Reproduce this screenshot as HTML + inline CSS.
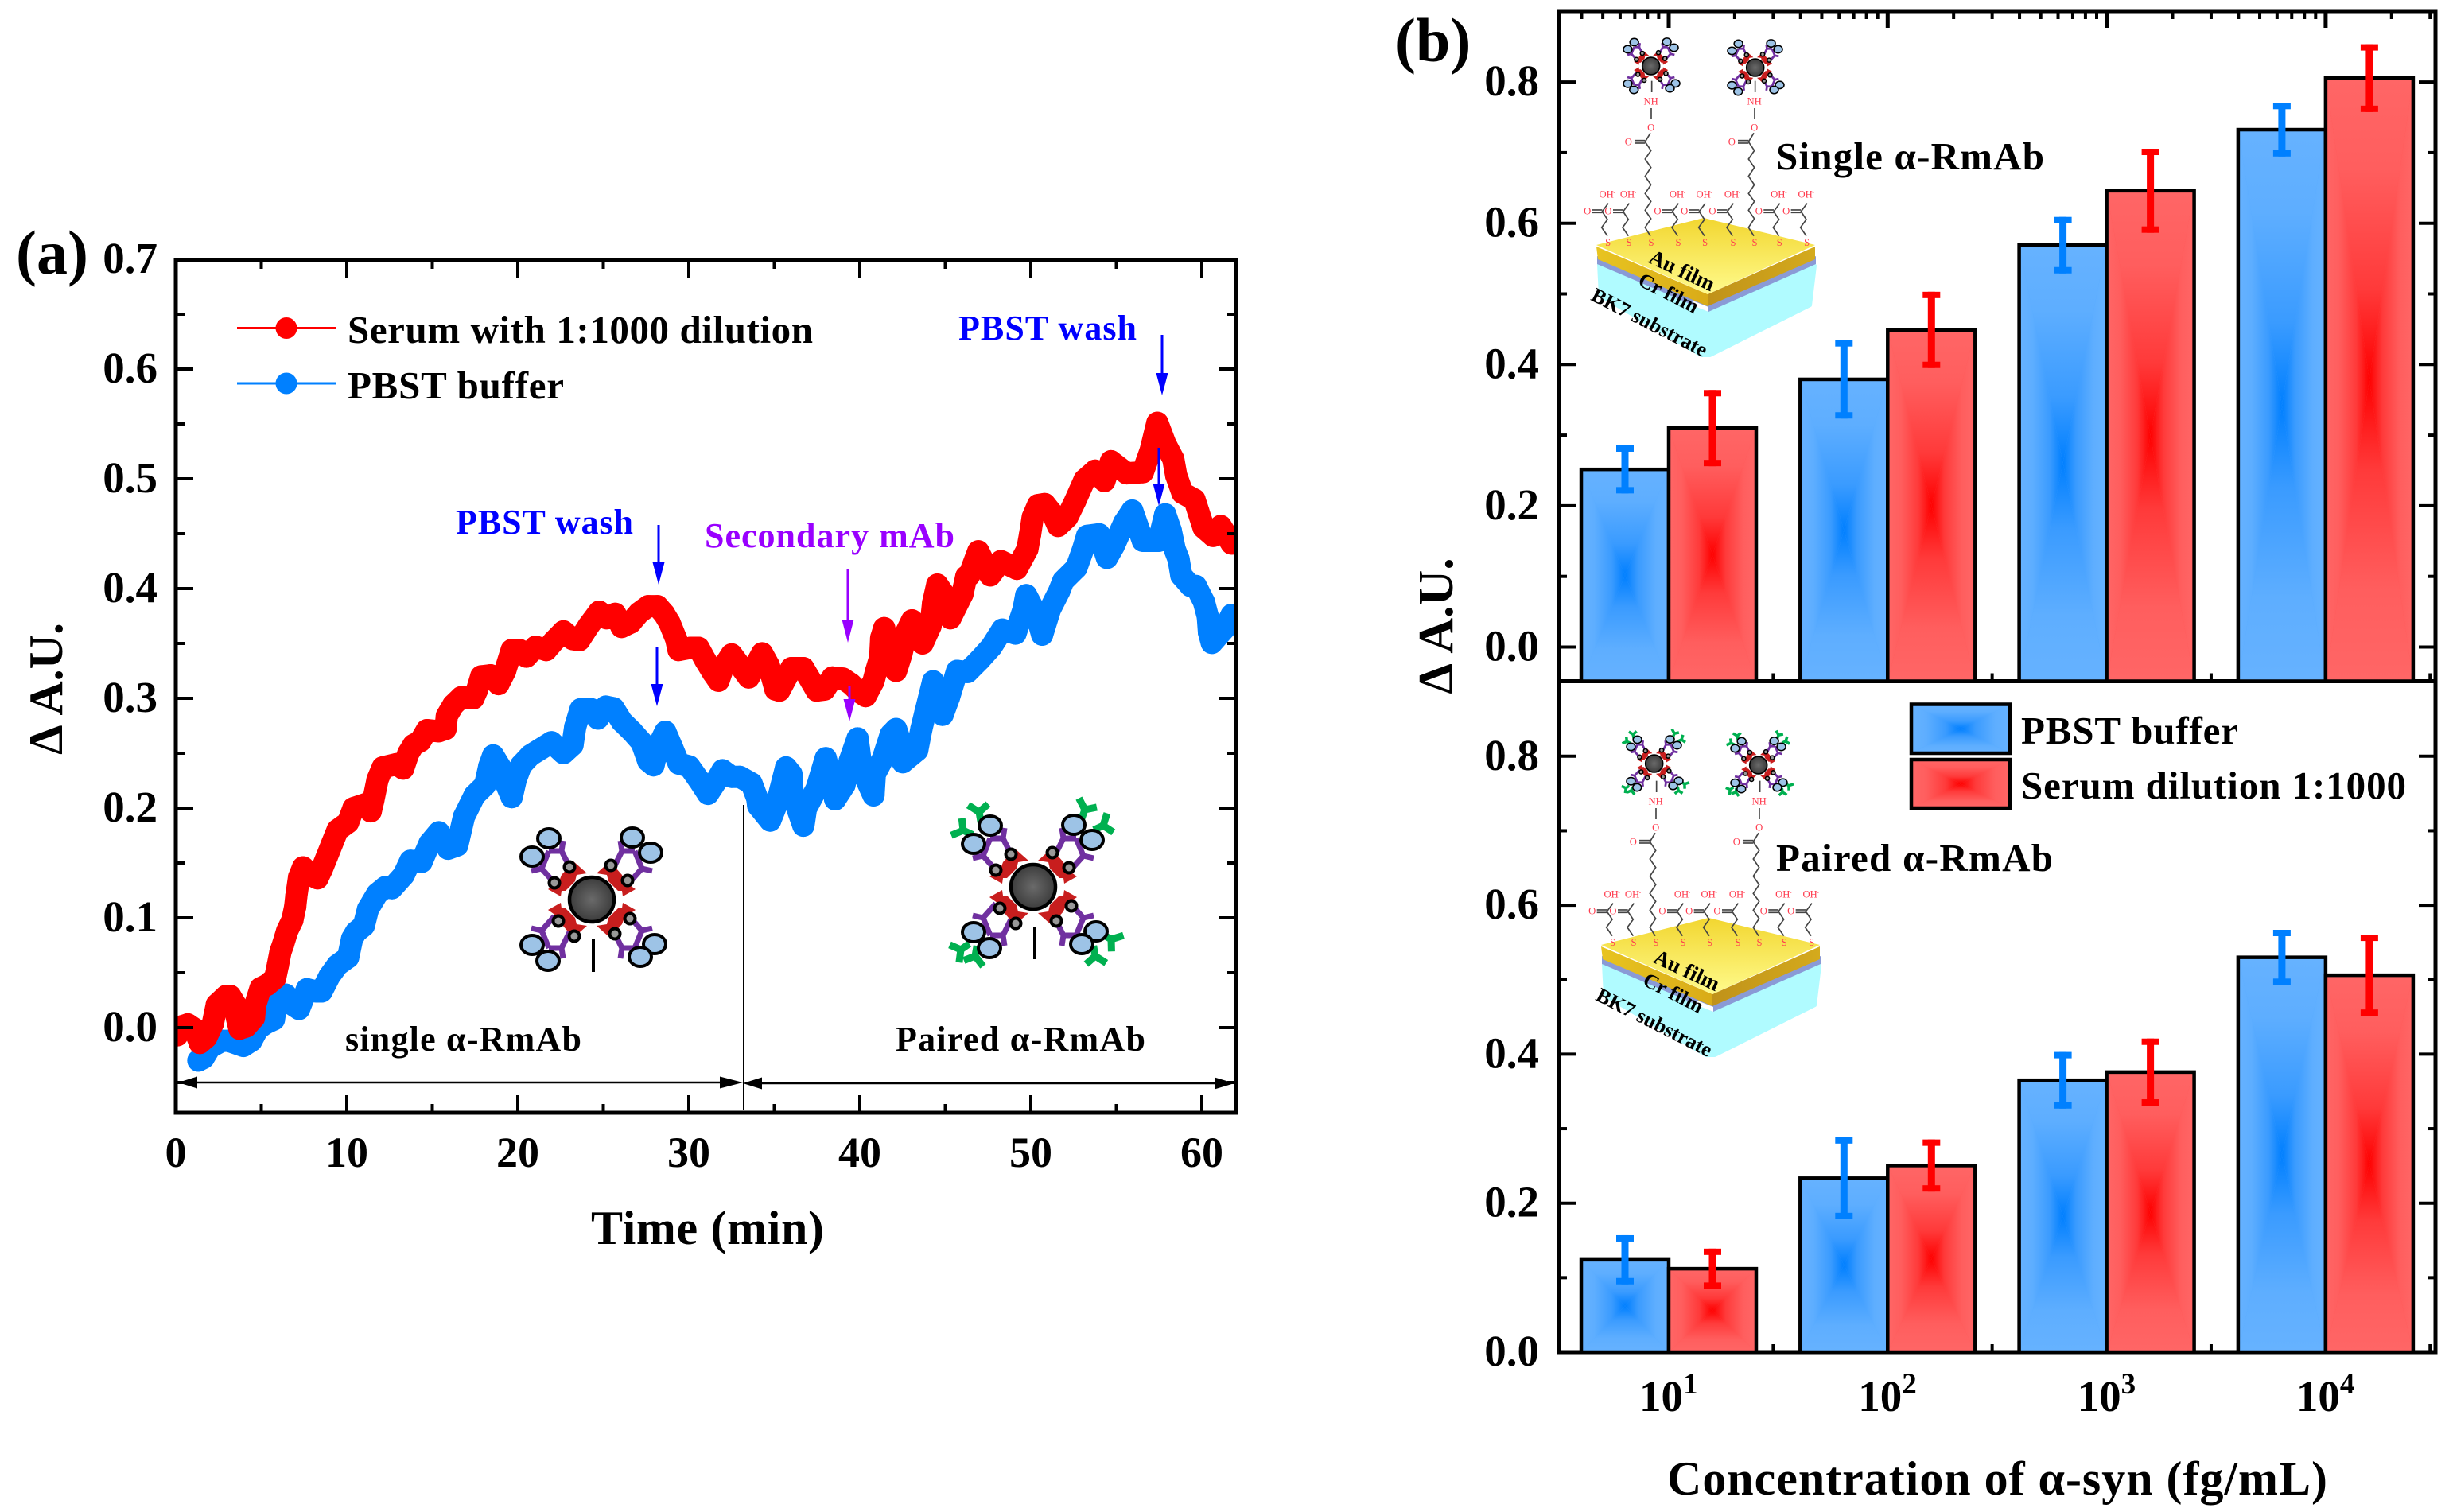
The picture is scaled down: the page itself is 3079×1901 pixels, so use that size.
<!DOCTYPE html>
<html lang="en">
<head>
<meta charset="utf-8">
<title>Delta A.U. sensor response figure</title>
<style>
html,body{margin:0;padding:0;background:#fff;}
svg{display:block;}
text{font-family:"Liberation Serif","Noto Serif CJK SC",serif;font-weight:bold;fill:#000;}
.chem text{font-weight:normal;fill:#ff3b4e;}
</style>
</head>
<body>
<svg id="figure" xmlns="http://www.w3.org/2000/svg" width="3079" height="1901" viewBox="0 0 3079 1901">
<defs>
  <clipPath id="plotAClip"><rect x="221" y="327" width="1333" height="1072"/></clipPath>
  <linearGradient id="blueTop" x1="0" y1="0" x2="0" y2="1"><stop offset="0" stop-color="#66b2ff"/><stop offset="0.3" stop-color="#5eaeff"/><stop offset="0.7" stop-color="#3a9bff"/><stop offset="1" stop-color="#007fff"/></linearGradient>
  <linearGradient id="blueBottom" x1="0" y1="1" x2="0" y2="0"><stop offset="0" stop-color="#66b2ff"/><stop offset="0.3" stop-color="#5eaeff"/><stop offset="0.7" stop-color="#3a9bff"/><stop offset="1" stop-color="#007fff"/></linearGradient>
  <linearGradient id="blueLeft" x1="0" y1="0" x2="1" y2="0"><stop offset="0" stop-color="#66b2ff"/><stop offset="0.3" stop-color="#5eaeff"/><stop offset="0.7" stop-color="#3a9bff"/><stop offset="1" stop-color="#007fff"/></linearGradient>
  <linearGradient id="blueRight" x1="1" y1="0" x2="0" y2="0"><stop offset="0" stop-color="#66b2ff"/><stop offset="0.3" stop-color="#5eaeff"/><stop offset="0.7" stop-color="#3a9bff"/><stop offset="1" stop-color="#007fff"/></linearGradient>
  <linearGradient id="redTop" x1="0" y1="0" x2="0" y2="1"><stop offset="0" stop-color="#ff6666"/><stop offset="0.3" stop-color="#ff5e5e"/><stop offset="0.7" stop-color="#ff3a3a"/><stop offset="1" stop-color="#ff0000"/></linearGradient>
  <linearGradient id="redBottom" x1="0" y1="1" x2="0" y2="0"><stop offset="0" stop-color="#ff6666"/><stop offset="0.3" stop-color="#ff5e5e"/><stop offset="0.7" stop-color="#ff3a3a"/><stop offset="1" stop-color="#ff0000"/></linearGradient>
  <linearGradient id="redLeft" x1="0" y1="0" x2="1" y2="0"><stop offset="0" stop-color="#ff6666"/><stop offset="0.3" stop-color="#ff5e5e"/><stop offset="0.7" stop-color="#ff3a3a"/><stop offset="1" stop-color="#ff0000"/></linearGradient>
  <linearGradient id="redRight" x1="1" y1="0" x2="0" y2="0"><stop offset="0" stop-color="#ff6666"/><stop offset="0.3" stop-color="#ff5e5e"/><stop offset="0.7" stop-color="#ff3a3a"/><stop offset="1" stop-color="#ff0000"/></linearGradient>
  <radialGradient id="coreGrad"><stop offset="0" stop-color="#6a6a6a"/><stop offset="1" stop-color="#3c3c3c"/></radialGradient>
  <linearGradient id="goldTop" x1="0.5" y1="0" x2="0.5" y2="1"><stop offset="0" stop-color="#f2d630"/><stop offset="1" stop-color="#fffb8c"/></linearGradient>
  <linearGradient id="goldLeft" x1="0" y1="0" x2="1" y2="0"><stop offset="0" stop-color="#e8c420"/><stop offset="1" stop-color="#d9ab18"/></linearGradient>
  <linearGradient id="goldRight" x1="0" y1="0" x2="1" y2="0"><stop offset="0" stop-color="#c0921a"/><stop offset="1" stop-color="#d4aa1c"/></linearGradient>

  <g id="quad">
    <polygon fill="#c81e1e" points="-55,-13 -41,-23 -38,-31 -23,-48 -6,-33 -19,-31 -21,-23 -33,-11 -38,-11 -39,-4"/>
    <g fill="none" stroke="#7030a0" stroke-width="7">
      <polyline points="-47,-21 -63,-39 -76,-36"/>
      <polyline points="-63,-39 -54,-61"/>
      <polyline points="-54,-61 -38,-61 -36,-74"/>
      <polyline points="-38,-61 -28,-41"/>
    </g>
  </g>
  <g id="particleSingle">
    <use href="#quad"/>
    <use href="#quad" transform="scale(-1,1)"/>
    <use href="#quad" transform="scale(1,-1)"/>
    <use href="#quad" transform="scale(-1,-1)"/>
    <g fill="#9dc3e6" stroke="#000" stroke-width="4">
      <ellipse cx="-54" cy="-77" rx="14" ry="12"/><ellipse cx="-75" cy="-54" rx="14" ry="12"/>
      <ellipse cx="51" cy="-78" rx="14" ry="12"/><ellipse cx="74" cy="-59" rx="14" ry="12"/>
      <ellipse cx="-75" cy="57" rx="14" ry="12"/><ellipse cx="-55" cy="77" rx="14" ry="12"/>
      <ellipse cx="79" cy="56" rx="14" ry="12"/><ellipse cx="61" cy="72" rx="14" ry="12"/>
    </g>
    <g fill="#999" stroke="#000" stroke-width="4">
      <circle cx="-28" cy="-41" r="6.5"/><circle cx="-47" cy="-21" r="6.5"/>
      <circle cx="24" cy="-43" r="6.5"/><circle cx="45" cy="-24" r="6.5"/>
      <circle cx="-42" cy="27" r="6.5"/><circle cx="-22" cy="46" r="6.5"/>
      <circle cx="48" cy="24" r="6.5"/><circle cx="29" cy="43" r="6.5"/>
    </g>
    <circle r="28" fill="url(#coreGrad)" stroke="#000" stroke-width="4.5"/>
  </g>
  <path id="greenY" d="M0,13 L0,0 L-12,-11 M0,0 L13,-8" fill="none" stroke="#00b050" stroke-width="9"/>
  <g id="particlePaired">
    <use href="#greenY" transform="translate(-68,-94) rotate(-10)"/>
    <use href="#greenY" transform="translate(-88,-71) rotate(-65)"/>
    <use href="#greenY" transform="translate(65,-97) rotate(20)"/>
    <use href="#greenY" transform="translate(88,-77) rotate(65)"/>
    <use href="#greenY" transform="translate(-91,79) rotate(-125)"/>
    <use href="#greenY" transform="translate(-73,87) rotate(-170)"/>
    <use href="#greenY" transform="translate(78,87) rotate(170)"/>
    <use href="#greenY" transform="translate(98,66) rotate(120)"/>
    <use href="#particleSingle"/>
  </g>
  <g id="plate">
    <polygon fill="#b0fbff" stroke="#b0fbff" stroke-width="4" stroke-linejoin="round" points="2010,332 2148,392 2282,334 2276,384 2150,447 2139,447 2012,372"/>
    <polygon fill="#8a9ad6" points="2008,322 2148,382 2283,322 2283,332 2148,392 2008,332"/>
    <polygon fill="#ffffff" points="2128,378 2148,386 2148,392 2128,384"/>
    <polygon fill="url(#goldLeft)" points="2007,310 2147,370 2147,385 2009,326"/>
    <polygon fill="url(#goldRight)" points="2147,370 2282,310 2282,326 2147,385"/>
    <polygon fill="url(#goldTop)" stroke-linejoin="round" points="2007,308 2142,274 2282,308 2147,370"/>
  </g>
</defs>

<rect x="0" y="0" width="3079" height="1901" fill="#fff"/>

<!-- Panel (a) -->
<g id="panelA">
  <text x="20" y="344" font-size="78">(a)</text>
  <g id="panelAParticles">
    <use href="#particleSingle" transform="translate(744,1131)"/>
    <line x1="746" y1="1181" x2="746" y2="1222" stroke="#000" stroke-width="4"/>
    <use href="#particlePaired" transform="translate(1299,1115)"/>
    <line x1="1301" y1="1165" x2="1301" y2="1206" stroke="#000" stroke-width="4"/>
  </g>
  <g id="seriesLayer" clip-path="url(#plotAClip)"></g>
  <g id="panelAAxes"></g>
  <text transform="translate(78,866) rotate(-90)" text-anchor="middle" font-size="60">Δ A.U.</text>
  <text x="743" y="1564" font-size="60" textLength="293" lengthAdjust="spacing">Time (min)</text>

  <g>
    <g>
      <line x1="298" y1="412.5" x2="423" y2="412.5" stroke="#ff0000" stroke-width="3"/>
      <circle cx="360" cy="412.5" r="13.5" fill="#ff0000"/>
      <text x="437" y="431" font-size="49" textLength="585" lengthAdjust="spacing">Serum with 1:1000 dilution</text>
    </g>
    <g>
      <line x1="298" y1="482" x2="423" y2="482" stroke="#0080ff" stroke-width="3"/>
      <circle cx="360" cy="482" r="13.5" fill="#0080ff"/>
      <text x="437" y="501" font-size="49" textLength="272" lengthAdjust="spacing">PBST buffer</text>
    </g>
  </g>

  <text x="573" y="671" font-size="44" textLength="223" lengthAdjust="spacing" style="fill:#0000ff">PBST wash</text>
  <text x="1205" y="427" font-size="44" textLength="224" lengthAdjust="spacing" style="fill:#0000ff">PBST wash</text>
  <text x="886" y="688" font-size="44" textLength="314" lengthAdjust="spacing" style="fill:#9900ff">Secondary mAb</text>

  <g fill="#0000ff" stroke="none"><rect x="826.5" y="660" width="3" height="50"/><polygon points="820.5,707 835.5,707 828,735"/></g>
  <g fill="#0000ff" stroke="none"><rect x="824.5" y="814" width="3" height="50"/><polygon points="818.5,860 833.5,860 826,888"/></g>
  <g fill="#9900ff" stroke="none"><rect x="1064.5" y="715" width="3" height="68"/><polygon points="1058.5,779 1073.5,779 1066,808"/></g>
  <g fill="#9900ff" stroke="none"><rect x="1066.5" y="863" width="3" height="20"/><polygon points="1060.5,879 1075.5,879 1068,907"/></g>
  <g fill="#0000ff" stroke="none"><rect x="1459.5" y="421" width="3" height="50"/><polygon points="1453.5,469 1468.5,469 1461,497"/></g>
  <g fill="#0000ff" stroke="none"><rect x="1455.5" y="563" width="3" height="48"/><polygon points="1449.5,608 1464.5,608 1457,636"/></g>

  <text x="434" y="1321" font-size="44" textLength="297" lengthAdjust="spacing">single α-RmAb</text>
  <text x="1126" y="1321" font-size="44" textLength="314" lengthAdjust="spacing">Paired α-RmAb</text>

  <line x1="935" y1="1012" x2="935" y2="1396" stroke="#000" stroke-width="2"/>
  <g>
    <line x1="230" y1="1361" x2="925" y2="1361" stroke="#000" stroke-width="2.5"/>
    <polygon points="224,1361 248,1353.5 248,1368.5" fill="#000"/>
    <polygon points="934,1361 905,1353.5 905,1368.5" fill="#000"/>
  </g>
  <g>
    <line x1="945" y1="1362" x2="1545" y2="1362" stroke="#000" stroke-width="2.5"/>
    <polygon points="934,1362 958,1354.5 958,1369.5" fill="#000"/>
    <polygon points="1552,1362 1527,1354.5 1527,1369.5" fill="#000"/>
  </g>
</g>

<!-- Panel (b) -->
<g id="panelB">
  <text x="1754" y="77" font-size="78">(b)</text>
  <g id="panelBAxes"></g>
  <g id="panelBBars"></g>

  <g id="insetUpper">
    <use href="#plate"/>
    <text transform="translate(2111,348) rotate(25)" text-anchor="middle" font-size="27">Au film</text>
    <text transform="translate(2094,376) rotate(27)" text-anchor="middle" font-size="26">Cr film</text>
    <text transform="translate(2070,413) rotate(27)" text-anchor="middle" font-size="26">BK7 substrate</text>
    <use href="#particleSingle" transform="translate(2075.7,83) scale(0.39)"/>
    <use href="#particleSingle" transform="translate(2206.7,85) scale(0.39)"/>
    <g class="chem" transform="translate(1990,30) scale(0.3333)"></g>
  </g>
  <g id="insetLower" transform="translate(6,880)">
    <use href="#plate"/>
    <text transform="translate(2111,348) rotate(25)" text-anchor="middle" font-size="27">Au film</text>
    <text transform="translate(2094,376) rotate(27)" text-anchor="middle" font-size="26">Cr film</text>
    <text transform="translate(2070,413) rotate(27)" text-anchor="middle" font-size="26">BK7 substrate</text>
    <use href="#particlePaired" transform="translate(2073.7,80) scale(0.39)"/>
    <use href="#particlePaired" transform="translate(2204.7,82) scale(0.39)"/>
    <g class="chem" transform="translate(1990,30) scale(0.3333)"></g>
  </g>

  <text x="2233" y="213" font-size="49" textLength="337" lengthAdjust="spacing">Single α-RmAb</text>
  <text x="2233" y="1095" font-size="49" textLength="348" lengthAdjust="spacing">Paired α-RmAb</text>

  <g id="panelBLegend">
    <text x="2541" y="935" font-size="49" textLength="273" lengthAdjust="spacing">PBST buffer</text>
    <text x="2541" y="1004" font-size="49" textLength="484" lengthAdjust="spacing">Serum dilution 1:1000</text>
  </g>

  <text transform="translate(1826,787) rotate(-90)" text-anchor="middle" font-size="62">Δ A.U.</text>
  <text x="2096" y="1879" font-size="60" textLength="830" lengthAdjust="spacing">Concentration of α-syn (fg/mL)</text>
</g>

<script>
// ---------- Panel (a) data ----------
const serumTime = [0.08,0.31,0.70,1.09,1.40,1.78,2.17,2.40,2.95,3.18,3.49,3.57,3.72,4.11,4.57,4.65,4.96,5.35,5.81,5.97,6.12,6.28,6.51,6.82,6.98,7.05,7.21,7.44,7.91,8.29,8.53,8.84,9.15,9.46,10.08,10.39,11.16,11.4,11.55,11.8,12.1,12.9,13.3,13.6,13.9,14.3,14.68,15.38,15.77,15.85,16.23,16.7,17.4,17.63,17.86,18.4,18.87,19.26,19.64,20.1,20.5,21.04,21.66,22.1,22.67,23.2,23.6,24.14,24.76,25.2,25.7,26.07,26.6,27.1,27.63,28.17,28.56,28.87,29.26,29.4,30.1,30.57,30.96,31.43,31.74,32.0,32.5,32.98,33.5,33.83,34.29,34.68,35.07,35.3,36,36.7,37.16,37.47,37.94,38.4,39.02,39.49,39.95,40.34,40.8,40.96,41.19,41.25,41.43,41.66,42.12,42.43,42.74,43.05,43.36,43.67,44.14,44.29,44.53,44.91,45.3,46,46.23,46.4,46.93,47.63,48.25,49.18,49.8,49.96,50.11,50.42,50.81,51.28,51.59,52.13,52.6,53.14,53.76,54.3,54.69,55.6,56.55,57.0,57.4,57.86,58.33,58.5,58.87,59.57,59.8,60.1,60.66,61.1,61.74];
const serumValue = [-0.007,0.001,0.003,-0.001,-0.014,-0.009,0.004,0.021,0.029,0.029,0.021,0.009,-0.001,0.001,0.009,0.021,0.036,0.039,0.045,0.057,0.069,0.076,0.088,0.098,0.110,0.120,0.137,0.146,0.139,0.136,0.144,0.156,0.168,0.180,0.187,0.200,0.204,0.197,0.207,0.226,0.237,0.240,0.236,0.250,0.2575,0.261,0.271,0.270,0.272,0.284,0.294,0.301,0.300,0.308,0.320,0.321,0.313,0.325,0.344,0.344,0.338,0.347,0.344,0.352,0.361,0.354,0.353,0.366,0.379,0.373,0.377,0.365,0.369,0.378,0.384,0.384,0.377,0.369,0.354,0.344,0.346,0.346,0.335,0.323,0.316,0.328,0.340,0.330,0.319,0.3275,0.341,0.330,0.308,0.307,0.3275,0.3275,0.3155,0.307,0.308,0.319,0.318,0.313,0.306,0.302,0.3155,0.325,0.337,0.355,0.364,0.347,0.325,0.340,0.361,0.371,0.361,0.350,0.366,0.387,0.4036,0.395,0.373,0.395,0.411,0.412,0.434,0.412,0.425,0.418,0.436,0.4495,0.465,0.476,0.477,0.468,0.457,0.465,0.480,0.499,0.5075,0.498,0.516,0.505,0.506,0.5255,0.551,0.532,0.518,0.503,0.487,0.481,0.470,0.4555,0.448,0.457,0.441];
const pbstTime = [1.32,1.63,2.0,2.7,3.1,3.95,4.42,4.8,5.27,5.74,5.89,6.43,6.82,7.21,7.67,8.22,8.53,8.99,9.46,10.08,10.31,10.54,11.0,11.24,11.78,12.25,12.64,13.33,13.72,14.37,14.84,15.38,15.92,16.46,16.85,17.47,18.09,18.33,18.56,18.95,19.26,19.64,19.88,20.19,20.73,21.35,21.97,22.67,23.2,23.36,23.67,24.3,24.68,25.15,25.6,26.08,26.7,27.24,27.63,27.94,28.17,28.63,29.03,29.41,30.03,30.57,31.12,31.58,31.97,32.5,32.98,33.67,34,34.06,34.76,35.15,35.69,36,36.08,36.7,36.85,37.47,38.01,38.4,38.56,39.1,39.41,39.87,39.95,40.1,40.8,40.88,41.35,41.81,42.12,42.43,42.51,43.36,43.6,43.83,44.29,44.45,44.84,45.22,45.69,46.3,47,47.7,48.33,49.1,49.57,49.73,50.34,50.66,51.12,51.66,51.9,52.67,53.06,53.29,53.99,54.45,54.84,55.46,55.93,56.55,57.48,57.86,58.18,58.41,58.64,58.8,59.34,59.65,60.12,60.35,60.42,60.58,61.35,61.74];
const pbstValue = [-0.030,-0.0275,-0.018,-0.012,-0.012,-0.0167,-0.012,-0.001,0.004,0.0075,0.023,0.030,0.021,0.017,0.035,0.033,0.033,0.047,0.057,0.064,0.081,0.087,0.093,0.108,0.122,0.128,0.127,0.139,0.152,0.151,0.168,0.178,0.163,0.166,0.192,0.2116,0.221,0.238,0.248,0.238,0.224,0.210,0.226,0.239,0.248,0.254,0.260,0.250,0.2575,0.274,0.290,0.290,0.2816,0.2925,0.291,0.279,0.2696,0.260,0.243,0.239,0.255,0.2696,0.255,0.2406,0.238,0.226,0.213,0.224,0.2345,0.2285,0.2285,0.2225,0.209,0.202,0.1886,0.204,0.237,0.231,0.2116,0.184,0.1995,0.2176,0.2454,0.221,0.208,0.221,0.243,0.2635,0.254,0.2357,0.2116,0.231,0.245,0.267,0.272,0.2575,0.2418,0.2527,0.272,0.2865,0.3155,0.301,0.285,0.301,0.325,0.324,0.335,0.347,0.3626,0.359,0.381,0.394,0.376,0.358,0.381,0.3976,0.407,0.419,0.436,0.448,0.4495,0.428,0.4386,0.460,0.471,0.4435,0.4435,0.4676,0.453,0.436,0.4266,0.412,0.4024,0.4024,0.388,0.3746,0.360,0.3505,0.364,0.376];
const panelAYTickValues = [0,0.1,0.2,0.3,0.4,0.5,0.6,0.7];
const panelAYTickLabels = ['0.0','0.1','0.2','0.3','0.4','0.5','0.6','0.7'];
const panelAYMinorValues = [-0.05,0.05,0.15,0.25,0.35,0.45,0.55,0.65];
const panelAXTickValues = [0,10,20,30,40,50,60];
const panelAXTickLabels = ['0','10','20','30','40','50','60'];
const panelAXMinorValues = [5,15,25,35,45,55];

// ---------- Panel (b) data ----------
const barCategories = [10,100,1000,10000];
const barExponentLabels = ['1','2','3','4'];
const singlePbstValues = [0.2515,0.379,0.569,0.7325];
const singlePbstErrors = [0.034,0.0555,0.040,0.038];
const singleSerumValues = [0.310,0.449,0.646,0.8055];
const singleSerumErrors = [0.054,0.054,0.0595,0.048];
const pairedPbstValues = [0.124,0.2335,0.365,0.530];
const pairedPbstErrors = [0.033,0.055,0.038,0.037];
const pairedSerumValues = [0.112,0.2505,0.376,0.506];
const pairedSerumErrors = [0.027,0.035,0.045,0.0545];
const panelBYTickValues = [0,0.2,0.4,0.6,0.8];
const panelBYTickLabels = ['0.0','0.2','0.4','0.6','0.8'];
const panelBYMinorValues = [0.1,0.3,0.5,0.7];

// ---------- helpers ----------
const NS = 'http://www.w3.org/2000/svg';
function make(tag, attrs, parent) {
  const node = document.createElementNS(NS, tag);
  for (const key in attrs) node.setAttribute(key, attrs[key]);
  parent.appendChild(node);
  return node;
}
function tickLine(parent, x1, y1, x2, y2, width, name) {
  const t = make('line', {x1: x1, y1: y1, x2: x2, y2: y2, stroke: '#000', 'stroke-width': width}, parent);
  
  
  return t;
}

// ---------- Panel (a) ----------
const ax = t => 221 + 21.5 * t;
const ay = v => 1292 - 1380 * v;
const seriesLayer = document.getElementById('seriesLayer');

function drawSeries(times, values, color, name) {
  const g = make('g', {}, seriesLayer);
  
  
  const pts = times.map((t, i) => ax(t).toFixed(1) + ',' + ay(values[i]).toFixed(1)).join(' ');
  const line = make('polyline', {points: pts, fill: 'none', stroke: color, 'stroke-width': 28, 'stroke-linejoin': 'round', 'stroke-linecap': 'round'}, g);
  
  
  times.forEach((t, i) => {
    const c = make('circle', {cx: ax(t).toFixed(1), cy: ay(values[i]).toFixed(1), r: 14, fill: color}, g);
    
    
  });
}
drawSeries(pbstTime, pbstValue, '#0080ff', 'pbst-series');
drawSeries(serumTime, serumValue, '#ff0000', 'serum-series');

const axesA = document.getElementById('panelAAxes');
const frameA = make('rect', {x: 221, y: 327, width: 1333, height: 1072, fill: 'none', stroke: '#000', 'stroke-width': 5}, axesA);



panelAXTickValues.forEach((v, i) => {
  tickLine(axesA, ax(v), 1399, ax(v), 1377, 4, 'x-major-tick');
  tickLine(axesA, ax(v), 327, ax(v), 349, 4, 'x-major-tick-top');
  const lab = make('text', {x: ax(v), y: 1467, 'text-anchor': 'middle', 'font-size': 54}, axesA);
  
  
  lab.textContent = panelAXTickLabels[i];
});
panelAXMinorValues.forEach(v => {
  tickLine(axesA, ax(v), 1399, ax(v), 1388, 4, 'x-minor-tick');
  tickLine(axesA, ax(v), 327, ax(v), 338, 4, 'x-minor-tick-top');
});
panelAYTickValues.forEach((v, i) => {
  tickLine(axesA, 221, ay(v), 243, ay(v), 4, 'y-major-tick');
  tickLine(axesA, 1554, ay(v), 1532, ay(v), 4, 'y-major-tick-right');
  const lab = make('text', {x: 198, y: ay(v) + 17, 'text-anchor': 'end', 'font-size': 55}, axesA);
  
  
  lab.textContent = panelAYTickLabels[i];
});
panelAYMinorValues.forEach(v => {
  tickLine(axesA, 221, ay(v), 232, ay(v), 4, 'y-minor-tick');
  tickLine(axesA, 1554, ay(v), 1543, ay(v), 4, 'y-minor-tick-right');
});

// ---------- Panel (b) ----------
const bx = exp => 2098 + 275.3 * (exp - 1);
const upperY = v => 813.5 - 888 * v;
const lowerY = v => 1700 - 936.5 * v;
const UPPER_BASE = 856.5, LOWER_BASE = 1700, BAR_W = 110;
const axesB = document.getElementById('panelBAxes');
const barsB = document.getElementById('panelBBars');

const frameB = make('rect', {x: 1960, y: 14, width: 1102, height: 1686, fill: 'none', stroke: '#000', 'stroke-width': 5}, axesB);


tickLine(axesB, 1960, UPPER_BASE, 3062, UPPER_BASE, 5, 'panel-b-divider-axis');

function logTicks() {
  for (let k = 0; k <= 4; k++) {
    for (let n = 1; n <= 9; n++) {
      const e = k + Math.log10(n);
      if (e < 0.5 || e > 4.5) continue;
      const major = n === 1;
      const len = major ? 21 : 10;
      const w = major ? 5 : 4;
      tickLine(axesB, bx(e), 14, bx(e), 14 + len, w, major ? 'top-major-tick' : 'top-minor-tick');
      tickLine(axesB, bx(e), UPPER_BASE, bx(e), UPPER_BASE - len, w, major ? 'upper-major-tick' : 'upper-minor-tick');
      tickLine(axesB, bx(e), LOWER_BASE, bx(e), LOWER_BASE - len, w, major ? 'bottom-major-tick' : 'bottom-minor-tick');
    }
  }
}
logTicks();

function yTicks(scale, panel) {
  panelBYTickValues.forEach((v, i) => {
    tickLine(axesB, 1960, scale(v), 1981, scale(v), 4, panel + '-y-major-tick');
    tickLine(axesB, 3062, scale(v), 3041, scale(v), 4, panel + '-y-major-tick-right');
    const lab = make('text', {x: 1935, y: scale(v) + 17, 'text-anchor': 'end', 'font-size': 55}, axesB);
    
    
    lab.textContent = panelBYTickLabels[i];
  });
  panelBYMinorValues.forEach(v => {
    tickLine(axesB, 1960, scale(v), 1970, scale(v), 4, panel + '-y-minor-tick');
    tickLine(axesB, 3062, scale(v), 3052, scale(v), 4, panel + '-y-minor-tick-right');
  });
}
yTicks(upperY, 'upper');
yTicks(lowerY, 'lower');

barCategories.forEach((cat, i) => {
  const cx = bx(Math.log10(cat));
  const lab = make('text', {x: cx - 37, y: 1774, 'font-size': 55}, axesB);
  
  
  lab.appendChild(document.createTextNode('10'));
  const sup = make('tspan', {dy: -22, 'font-size': 37}, lab);
  sup.textContent = barExponentLabels[i];
});

function gradientBox(parent, x, top, w, bottom, hue) {
  const cx = x + w / 2, cy = (top + bottom) / 2, r = x + w;
  const mid = make('rect', {x: x, y: top, width: w, height: bottom - top, fill: hue === 'blue' ? '#4fa6ff' : '#ff4f4f'}, parent);
  
  
  const tris = [
    [`${x},${top} ${r},${top} ${cx},${cy}`, 'Top'],
    [`${x},${bottom} ${r},${bottom} ${cx},${cy}`, 'Bottom'],
    [`${x},${top} ${x},${bottom} ${cx},${cy}`, 'Left'],
    [`${r},${top} ${r},${bottom} ${cx},${cy}`, 'Right']
  ];
  tris.forEach(tri => {
    const p = make('polygon', {points: tri[0], fill: `url(#${hue}${tri[1]})`}, parent);
    
    
  });
  const edge = make('rect', {x: x, y: top, width: w, height: bottom - top, fill: 'none', stroke: '#000', 'stroke-width': 4.5}, parent);
  
  
}

function errorBar(parent, cx, top, bottom, color) {
  const stem = make('rect', {x: cx - 4.5, y: top, width: 9, height: bottom - top, fill: color}, parent);
  
  
  const capA = make('rect', {x: cx - 11, y: top, width: 22, height: 8, fill: color}, parent);
  
  
  const capB = make('rect', {x: cx - 11, y: bottom - 8, width: 22, height: 8, fill: color}, parent);
  
  
}

function drawBars(values, errors, scale, base, side, hue, color, name) {
  const errLayer = [];
  values.forEach((v, i) => {
    const center = bx(Math.log10(barCategories[i]));
    const x = side < 0 ? center - BAR_W : center;
    const g = make('g', {}, barsB);
    
    
    gradientBox(g, x, scale(v), BAR_W, base, hue);
    errLayer.push([x + BAR_W / 2, scale(v + errors[i]), scale(v - errors[i])]);
  });
  return errLayer.map(e => [e, color, name]);
}
const pendingErrors = []
  .concat(drawBars(singlePbstValues, singlePbstErrors, upperY, UPPER_BASE, -1, 'blue', '#0080ff', 'single-pbst'))
  .concat(drawBars(singleSerumValues, singleSerumErrors, upperY, UPPER_BASE, 1, 'red', '#ff0000', 'single-serum'))
  .concat(drawBars(pairedPbstValues, pairedPbstErrors, lowerY, LOWER_BASE, -1, 'blue', '#0080ff', 'paired-pbst'))
  .concat(drawBars(pairedSerumValues, pairedSerumErrors, lowerY, LOWER_BASE, 1, 'red', '#ff0000', 'paired-serum'));
pendingErrors.forEach(item => {
  const g = make('g', {}, barsB);
  
  
  errorBar(g, item[0][0], item[0][1], item[0][2], item[1]);
});

// panel (b) legend swatches
const legendB = document.getElementById('panelBLegend');
const swatchBlue = make('g', {}, legendB);


gradientBox(swatchBlue, 2403, 885.5, 124, 947, 'blue');
const swatchRed = make('g', {}, legendB);


gradientBox(swatchRed, 2403, 955, 124, 1016, 'red');

// inset surface chemistry (drawn in a 3x local coordinate system)
function chemText(parent, x, y, size, str, name) {
  const t = make('text', {x: x, y: y, 'text-anchor': 'middle', 'font-size': size}, parent);
  
  
  t.textContent = str;
}
function chemLine(parent, pts, name) {
  const l = make('polyline', {points: pts, fill: 'none', stroke: '#444', 'stroke-width': 5}, parent);
  
  
}
document.querySelectorAll('.chem').forEach(group => {
  [95, 174, 360, 461, 567, 742, 845].forEach(sx => {
    chemLine(group, `${sx-2},800 ${sx-24},768 ${sx-2},738 ${sx-22},708 ${sx+1},677`, 'acid-chain');
    chemLine(group, `${sx-22},702 ${sx-60},702`, 'carbonyl-bond');
    chemLine(group, `${sx-22},712 ${sx-60},712`, 'carbonyl-bond');
    chemText(group, sx - 78, 719, 38, 'O', 'oxygen-label');
    chemText(group, sx - 6, 656, 38, 'OH', 'hydroxyl-label');
    chemText(group, sx + 24, 642, 22, '-', 'charge-label');
    chemText(group, sx, 837, 38, 'S', 'sulfur-label');
  });
  [258, 648].forEach(sx => {
    const off = sx - 258;
    chemLine(group, [[255,800],[235,768],[257,735],[235,703],[257,670],[235,640],[257,607],[235,575],[257,542],[235,510],[257,478],[235,445]].map(p => (p[0] + off) + ',' + p[1]).join(' '), 'linker-chain');
    chemLine(group, `${235+off},445 ${255+off},412`, 'ester-bond');
    chemLine(group, `${235+off},440 ${195+off},440`, 'carbonyl-bond');
    chemLine(group, `${235+off},450 ${195+off},450`, 'carbonyl-bond');
    chemLine(group, `${258+off},318 ${258+off},360`, 'amide-bond');
    chemLine(group, `${260+off},215 ${260+off},258`, 'particle-bond');
    chemText(group, 172 + off, 458, 38, 'O', 'oxygen-label');
    chemText(group, 257 + off, 403, 38, 'O', 'oxygen-label');
    chemText(group, 257 + off, 305, 38, 'NH', 'amine-label');
    chemText(group, sx, 837, 38, 'S', 'sulfur-label');
  });
});
</script>
</svg>
</body>
</html>
